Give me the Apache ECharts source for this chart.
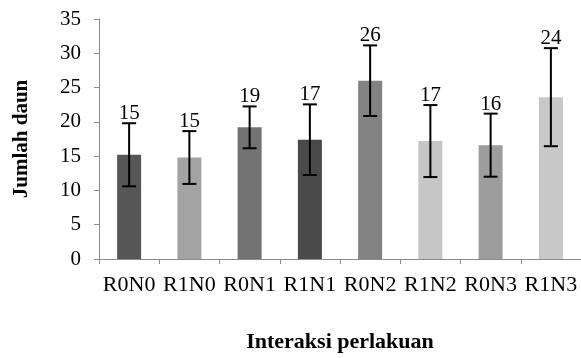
<!DOCTYPE html>
<html><head><meta charset="utf-8">
<script src="https://cdn.jsdelivr.net/npm/echarts@6/dist/echarts.min.js"></script>
<style>html,body{margin:0;padding:0;background:#fff}#c{width:581px;height:358px}</style>
</head><body><div id="c"></div>
<script>
const categories = ['R0N0','R1N0','R0N1','R1N1','R0N2','R1N2','R0N3','R1N3'];
const means = [15.2, 14.8, 19.2, 17.4, 26.0, 17.2, 16.6, 23.6];
const errors = [4.6, 3.85, 3.05, 5.15, 5.15, 5.25, 4.6, 7.15];
const valueLabels = ['15','15','19','17','26','17','16','24'];
const barColors = ['#565656','#a3a3a3','#737373','#4a4a4a','#838383','#c6c6c6','#9d9d9d','#c8c8c8'];
const yTicks = [0,5,10,15,20,25,30,35];

const FONT = '"Liberation Serif","Times New Roman",serif';
const chart = echarts.init(document.getElementById('c'), null, {renderer:'canvas'});
const errData = means.map((m,i)=>[i, m-errors[i], m+errors[i], valueLabels[i]]);
chart.setOption({
  animation:false,
  backgroundColor:'#fff',
  grid:{left:99,right:0,top:19,bottom:95,containLabel:false},
  xAxis:{
    type:'category', data:categories,
    axisLine:{lineStyle:{color:'#8c8c8c',width:1}},
    axisTick:{show:true,alignWithLabel:false,length:5,lineStyle:{color:'#8c8c8c'}},
    axisLabel:{color:'#000',fontFamily:FONT,fontSize:22,margin:15,interval:0},
    name:'Interaksi perlakuan', nameLocation:'middle', nameGap:72,
    nameTextStyle:{color:'#000',fontFamily:FONT,fontSize:22,fontWeight:'bold'}
  },
  yAxis:{
    type:'value', min:yTicks[0], max:yTicks[yTicks.length-1], interval:5,
    axisLine:{show:true,lineStyle:{color:'#8c8c8c',width:1}},
    axisTick:{show:true,length:5,lineStyle:{color:'#8c8c8c'}},
    splitLine:{show:false},
    axisLabel:{color:'#000',fontFamily:FONT,fontSize:21,margin:18},
    name:'Jumlah daun', nameLocation:'middle', nameGap:67, nameRotate:90,
    nameTextStyle:{color:'#000',fontFamily:FONT,fontSize:21,fontWeight:'bold'}
  },
  series:[
    {type:'bar', data:means.map((v,i)=>({value:v,itemStyle:{color:barColors[i]}})), barWidth:24},
    {type:'custom', data:errData, z:10,
     renderItem:function(params, api){
       const x = api.value(0);
       const lo = api.coord([x, api.value(1)]);
       const hi = api.coord([x, api.value(2)]);
       const hw = 7;
       const st = {stroke:'#000', lineWidth:2};
       return {type:'group', children:[
         {type:'line', shape:{x1:lo[0],y1:lo[1],x2:hi[0],y2:hi[1]}, style:st},
         {type:'line', shape:{x1:lo[0]-hw,y1:lo[1],x2:lo[0]+hw,y2:lo[1]}, style:st},
         {type:'line', shape:{x1:hi[0]-hw,y1:hi[1],x2:hi[0]+hw,y2:hi[1]}, style:st},
         {type:'text', style:{text:String(api.value(3)), x:hi[0], y:hi[1]+1, align:'center', verticalAlign:'bottom', fill:'#000', font:'21px '+FONT}}
       ]};
     }
    }
  ]
});
</script></body></html>
